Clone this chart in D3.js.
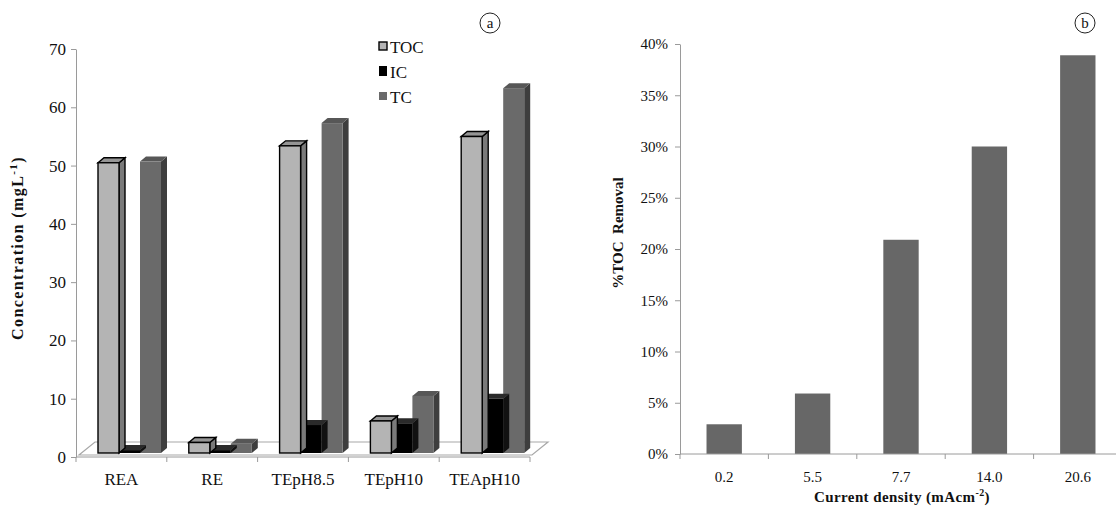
<!DOCTYPE html>
<html>
<head>
<meta charset="utf-8">
<script src="https://cdn.jsdelivr.net/npm/d3@7"></script>
<style>
  body { margin: 0; background: #fff; }
  svg { display: block; font-family: "Liberation Serif", "Times New Roman", serif; }
</style>
</head>
<body>
<svg id="chart" width="1116" height="506"></svg>
<script>
// panel a: carbon concentrations per sample
const samples = ["REA", "RE", "TEpH8.5", "TEpH10", "TEApH10"];
const seriesNames = ["TOC", "IC", "TC"];
const tocValues = [49.8, 1.8, 52.7, 5.5, 54.3];
const icValues = [0.5, 0.5, 4.8, 5.1, 9.3];
const tcValues = [50.0, 1.6, 56.6, 9.8, 62.6];
const concTicks = [0, 10, 20, 30, 40, 50, 60, 70];

// panel b: TOC removal vs current density
const densities = ["0.2", "5.5", "7.7", "14.0", "20.6"];
const removal = [0.029, 0.059, 0.209, 0.300, 0.389];
const removalTicks = [0, 0.05, 0.1, 0.15, 0.2, 0.25, 0.3, 0.35, 0.4];

const AXIS = "#9a9a9a";
const colors = {
  TOC: { front: "#b4b4b4", side: "#7a7a7a", top: "#959595", stroke: "#000" },
  IC: { front: "#000", side: "#111", top: "#2a2a2a", stroke: "none" },
  TC: { front: "#6a6a6a", side: "#3e3e3e", top: "#575757", stroke: "none" }
};

const svg = d3.select("#chart");

// ---------- panel a ----------
const xA = d3.scaleBand().domain(samples).range([76, 530]);
const xSub = d3.scaleBand().domain(seriesNames).range([22, 85]);
const yA = d3.scaleLinear().domain([0, 70]).range([457, 49]);
const lift = 4, dx = 6, dy = 5;

const gA = svg.append("g");

// floor
const fl = 79, fr = 532, fy = 455;
gA.append("path")
  .attr("d", `M${fl},${fy}L${fr},${fy}L${fr + 16},${fy - 13}L${fl + 16},${fy - 13}Z`)
  .attr("fill", "#fff")
  .attr("stroke", "#a8a8a8")
  .attr("stroke-width", 1.2);

const rows = [];
samples.forEach((s, i) => {
  rows.push({ sample: s, key: "TOC", value: tocValues[i] });
  rows.push({ sample: s, key: "IC", value: icValues[i] });
  rows.push({ sample: s, key: "TC", value: tcValues[i] });
});
// draw right-most first so side faces overlap correctly
rows.sort((a, b) => (xA(b.sample) + xSub(b.key)) - (xA(a.sample) + xSub(a.key)));

const bars = gA.append("g").selectAll("g").data(rows).join("g");
bars.each(function (d) {
  const g = d3.select(this);
  const c = colors[d.key];
  const x0 = xA(d.sample) + xSub(d.key);
  const w = xSub.bandwidth();
  const yb = yA(0) - lift;
  const yt = yA(d.value) - lift;
  const sw = d.key === "TOC" ? 1.4 : 0;
  g.append("path")
    .attr("d", `M${x0 + w},${yt}L${x0 + w + dx},${yt - dy}L${x0 + w + dx},${yb - dy}L${x0 + w},${yb}Z`)
    .attr("fill", c.side).attr("stroke", c.stroke).attr("stroke-width", sw);
  g.append("path")
    .attr("d", `M${x0},${yt}L${x0 + dx},${yt - dy}L${x0 + w + dx},${yt - dy}L${x0 + w},${yt}Z`)
    .attr("fill", c.top).attr("stroke", c.stroke).attr("stroke-width", sw);
  g.append("rect")
    .attr("x", x0).attr("y", yt).attr("width", w).attr("height", yb - yt)
    .attr("fill", c.front).attr("stroke", c.stroke).attr("stroke-width", sw);
});

// axes
const axA = gA.append("g").attr("transform", "translate(76,0)")
  .call(d3.axisLeft(yA).tickValues(concTicks).tickSize(5).tickSizeOuter(0).tickPadding(5));
axA.select(".domain").attr("stroke", AXIS);
axA.selectAll(".tick line").attr("stroke", AXIS);
axA.selectAll(".tick text").attr("font-size", 17).attr("font-family", "Liberation Serif").attr("fill", "#111");

gA.append("line").attr("x1", 76).attr("x2", 530).attr("y1", 457).attr("y2", 457).attr("stroke", AXIS);
gA.selectAll(".xtick").data(samples.concat(["end"])).join("line")
  .attr("x1", (d, i) => 76 + i * xA.step()).attr("x2", (d, i) => 76 + i * xA.step())
  .attr("y1", 457).attr("y2", 462).attr("stroke", AXIS);
gA.selectAll(".xlab").data(samples).join("text")
  .attr("x", d => xA(d) + xA.bandwidth() / 2).attr("y", 485)
  .attr("text-anchor", "middle").attr("font-size", 17).attr("fill", "#111").text(d => d);

const tA = gA.append("text").attr("transform", "translate(23,248) rotate(-90)")
  .attr("text-anchor", "middle").attr("font-size", 16).attr("font-weight", "bold")
  .attr("letter-spacing", 1.4).attr("fill", "#111");
tA.append("tspan").text("Concentration (mgL");
tA.append("tspan").attr("font-size", 11).attr("dy", -6).text("-1");
tA.append("tspan").attr("dy", 6).text(")");

// legend
const legend = gA.append("g").selectAll("g").data(seriesNames).join("g")
  .attr("transform", (d, i) => `translate(379,${42 + i * 25})`);
legend.append("rect").attr("width", 8).attr("height", d => d === "IC" ? 10 : 8)
  .attr("y", d => d === "IC" ? -1 : 0)
  .attr("fill", d => colors[d].front)
  .attr("stroke", d => d === "TOC" ? "#000" : "none").attr("stroke-width", 1.4);
legend.append("text").attr("x", 11).attr("y", 11).attr("font-size", 17).attr("fill", "#111").text(d => d);

// ---------- panel b ----------
const xB = d3.scaleBand().domain(densities).range([680, 1122]).paddingInner(0.6).paddingOuter(0.3);
const yB = d3.scaleLinear().domain([0, 0.4]).range([454, 44]);
const gB = svg.append("g");

gB.selectAll("rect").data(removal).join("rect")
  .attr("x", (d, i) => xB(densities[i])).attr("y", d => yB(d))
  .attr("width", xB.bandwidth()).attr("height", d => yB(0) - yB(d))
  .attr("fill", "#676767");

const axB = gB.append("g").attr("transform", "translate(680,0)")
  .call(d3.axisLeft(yB).tickValues(removalTicks).tickFormat(d3.format(".0%")).tickSize(5).tickSizeOuter(0).tickPadding(7));
axB.select(".domain").attr("stroke", AXIS);
axB.selectAll(".tick line").attr("stroke", AXIS);
axB.selectAll(".tick text").attr("font-size", 15).attr("font-family", "Liberation Serif").attr("fill", "#111");

gB.append("line").attr("x1", 680).attr("x2", 1116).attr("y1", 454).attr("y2", 454).attr("stroke", AXIS);
gB.selectAll(".xtick").data(densities).join("line")
  .attr("x1", (d, i) => 680 + i * xB.step()).attr("x2", (d, i) => 680 + i * xB.step())
  .attr("y1", 454).attr("y2", 459).attr("stroke", AXIS);
gB.selectAll(".xlab").data(densities).join("text")
  .attr("x", d => xB(d) + xB.bandwidth() / 2).attr("y", 482)
  .attr("text-anchor", "middle").attr("font-size", 15).attr("fill", "#111").text(d => d);

const xtB = gB.append("text").attr("x", 902).attr("y", 502)
  .attr("text-anchor", "middle").attr("font-size", 15).attr("font-weight", "bold")
  .attr("letter-spacing", 0.4).attr("fill", "#111");
xtB.append("tspan").text("Current density (mAcm");
xtB.append("tspan").attr("font-size", 10).attr("dy", -6).text("-2");
xtB.append("tspan").attr("dy", 6).text(")");

gB.append("text").attr("transform", "translate(623,233) rotate(-90)")
  .attr("text-anchor", "middle").attr("font-size", 15).attr("font-weight", "bold").attr("fill", "#111")
  .attr("xml:space", "preserve").text("%TOC  Removal");

// panel letters
const letters = [{ t: "a", x: 490 }, { t: "b", x: 1085 }];
const lg = svg.append("g").selectAll("g").data(letters).join("g")
  .attr("transform", d => `translate(${d.x},23)`);
lg.append("circle").attr("r", 10).attr("fill", "none").attr("stroke", "#222").attr("stroke-width", 1);
lg.append("text").attr("y", 5).attr("text-anchor", "middle").attr("font-size", 15).attr("fill", "#111").text(d => d.t);
</script>
</body>
</html>
